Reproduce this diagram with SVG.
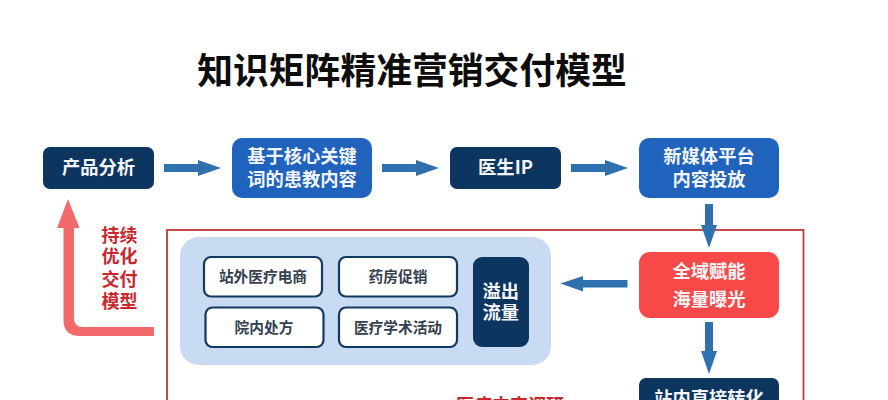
<svg xmlns="http://www.w3.org/2000/svg" width="888" height="400" viewBox="0 0 888 400">
<style>
text{font-family:"Noto Sans CJK SC","Noto Sans",sans-serif;text-anchor:middle;font-weight:700}
.w{fill:#f4f6f9;font-size:18.3px}
.d{fill:#33404f;font-size:14.7px}
.r{fill:#c8272d;font-size:18px}
.n{fill:#0c3560}
.b{fill:#1f63bd}
.s{fill:#fff;stroke:#12395f;stroke-width:2.2}
.a{fill:#2f71ae}
</style>
<rect width="888" height="400" fill="#fff"/>
<text x="412" y="84" font-size="35.800" fill="#0d0d0d">知识矩阵精准营销交付模型</text>
<rect id="frame" x="167" y="230" width="636.500" height="180" fill="none" stroke="#c0393b" stroke-width="1.800"/>
<g id="connectors">
<path class="a" d="M164 164H198V160L221 168L198 176V172H164Z"/>
<path class="a" d="M382 164H416V160L439 168L416 176V172H382Z"/>
<path class="a" d="M571 164H605V160L628 168L605 176V172H571Z"/>
<path class="a" d="M705 204H713V225H717L709 248L701 225H705Z"/>
<path class="a" d="M627.500 280H583V276L560.500 283.500L583 291.500V287.500H627.500Z"/>
<path class="a" d="M705 322H713V351H717L709 374L701 351H705Z"/>
<path fill="#f36a6b" d="M154 327H83Q74 327 74 318V228H79.500L68 199L57 228H63.500V320Q63.500 336 80 336H154Z"/>
</g>
<g id="n1"><rect class="n" x="43" y="147" width="111" height="42" rx="7"/><text class="w" x="98.500" y="174">产品分析</text></g>
<g id="n2"><rect class="b" x="232" y="138" width="140" height="60" rx="10"/><text class="w" x="302" y="163">基于核心关键</text><text class="w" x="302" y="186">词的患教内容</text></g>
<g id="n3"><rect class="n" x="450" y="147" width="111" height="42" rx="7"/><text class="w" x="505.500" y="174">医生IP</text></g>
<g id="n4"><rect class="b" x="639" y="138" width="140" height="60" rx="10"/><text class="w" x="709" y="163">新媒体平台</text><text class="w" x="709" y="186">内容投放</text></g>
<g id="n5"><rect fill="#f84848" x="639" y="252" width="140" height="66" rx="11"/><text class="w" x="709" y="277.500">全域赋能</text><text class="w" x="709" y="305.500">海量曝光</text></g>
<g id="n6"><rect class="n" x="639" y="378" width="140" height="40" rx="7"/><text class="w" x="709" y="405">站内直接转化</text></g>
<g id="pool"><rect fill="#c9daf3" x="180" y="237" width="371" height="128" rx="19"/></g>
<g id="n7"><rect class="s" x="204" y="257" width="118" height="39.500" rx="7"/><text class="d" x="263" y="282">站外医疗电商</text></g>
<g id="n8"><rect class="s" x="339" y="257" width="118" height="39.500" rx="7"/><text class="d" x="398" y="282">药房促销</text></g>
<g id="n9"><rect class="s" x="205.500" y="307.500" width="118" height="39.500" rx="7"/><text class="d" x="264" y="332.500">院内处方</text></g>
<g id="n10"><rect class="s" x="339" y="307.500" width="118" height="39.500" rx="7"/><text class="d" x="398" y="332.500">医疗学术活动</text></g>
<g id="n11"><rect class="n" x="473" y="257" width="56" height="90" rx="9"/><text class="w" x="500.700" y="297.500">溢出</text><text class="w" x="500.700" y="319">流量</text></g>
<g id="label"><text class="r" x="119.500" y="241.500">持续</text><text class="r" x="119.500" y="263">优化</text><text class="r" x="119.500" y="285.500">交付</text><text class="r" x="119.500" y="308">模型</text></g>
<text class="r" x="510" y="412" font-size="18.300">医疗内容调研</text>
</svg>
